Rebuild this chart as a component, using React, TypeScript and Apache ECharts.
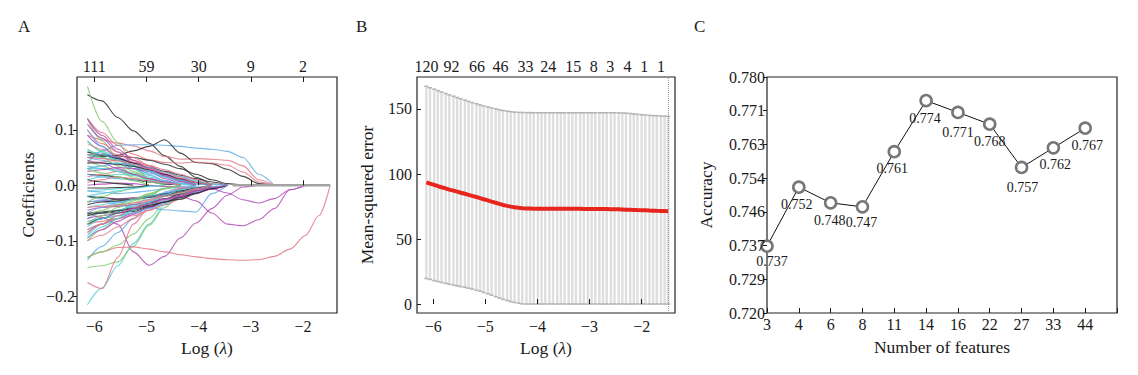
import React, { useEffect, useRef } from "react";
import * as echarts from "echarts";

// ---------- Panel A: LASSO coefficient paths ----------
const A_LAMBDA = [-6.13, -5.85, -5.55, -5.25, -4.95, -4.65, -4.35, -4.05, -3.75, -3.45, -3.15, -2.85, -2.55, -2.25, -1.95, -1.7, -1.48];
const A_TOP_POS = [-6, -5, -4, -3, -2];
const A_TOP_LABELS = ["111", "59", "30", "9", "2"];
const A_X_TICKS = [-6, -5, -4, -3, -2];
const A_Y_TICKS = [-0.2, -0.1, 0, 0.1];
const A_ZERO_SPAN = [-3.35, -1.48];
const A_COLORS = ["#2b2b2b", "#e27584", "#80cc6c", "#62aee6", "#52cfd8", "#b04cb6"];
const A_PATHS: number[][] = [
  [0.163, 0.152, 0.122, 0.098, 0.076, 0.053, 0.034, 0.014, 0],
  [0.09, 0.082, 0.076, 0.071, 0.062, 0.052, 0.047, 0.048, 0.047, 0.045, 0.035, 0.01, 0],
  [0.178, 0.115, 0.077, 0.037, 0.012, 0],
  [0.04, 0.062, 0.072, 0.073, 0.073, 0.072, 0.07, 0.067, 0.065, 0.061, 0.05, 0.02, 0],
  [-0.215, -0.185, -0.145, -0.105, -0.07, -0.035, -0.01, 0],
  [-0.05, -0.058, -0.07, -0.12, -0.144, -0.128, -0.095, -0.068, -0.042, -0.018, -0.003, 0],
  [0.05, 0.052, 0.054, 0.062, 0.07, 0.082, 0.058, 0.041, 0.039, 0.029, 0.016, 0.003, 0],
  [0.12, 0.095, 0.072, 0.056, 0.046, 0.041, 0.04, 0.042, 0.04, 0.036, 0.024, 0.006, 0],
  [-0.148, -0.145, -0.138, -0.11, -0.072, -0.04, -0.015, 0],
  [-0.135, -0.11, -0.085, -0.06, -0.035, -0.012, 0],
  [0.01, 0.015, 0.02, 0.018, 0.012, 0.006, 0.002, 0],
  [-0.03, -0.028, -0.025, -0.022, -0.02, -0.018, -0.02, -0.028, -0.05, -0.07, -0.073, -0.062, -0.042, -0.008, 0],
  [-0.052, -0.05, -0.049, -0.047, -0.04, -0.03, -0.02, -0.01, 0],
  [-0.13, -0.12, -0.112, -0.111, -0.115, -0.12, -0.125, -0.129, -0.132, -0.134, -0.135, -0.134, -0.128, -0.115, -0.09, -0.055, 0],
  [-0.13, -0.12, -0.108, -0.088, -0.06, -0.03, -0.008, 0],
  [-0.02, -0.025, -0.03, -0.035, -0.04, -0.044, -0.046, -0.048, -0.015, 0],
  [-0.01, -0.008, -0.006, -0.004, -0.002, 0],
  [0.0, 0.002, 0.004, 0.003, 0.0, -0.002, -0.003, -0.004, -0.006, -0.014, -0.026, -0.032, -0.024, -0.008, 0],
  [0.055, 0.054, 0.053, 0.05, 0.045, 0.038, 0.03, 0.02, 0.01, 0.003, 0],
  [-0.175, -0.186, -0.13, -0.07, -0.04, -0.018, -0.005, 0],
  [0.12, 0.08, 0.05, 0.03, 0.012, 0],
  [0.06, 0.058, 0.05, 0.04, 0.03, 0.02, 0.01, 0],
  [0.055, 0.05, 0.045, 0.035, 0.02, 0.008, 0],
  [0.11, 0.085, 0.06, 0.04, 0.025, 0.012, 0.004, 0],
  [-0.05, -0.048, -0.045, -0.04, -0.032, -0.024, -0.016, -0.008, 0],
  [0.1, 0.075, 0.06, 0.05, 0.035, 0.02, 0.008, 0],
  [-0.1, -0.08, -0.06, -0.04, -0.02, -0.005, 0],
  [-0.09, -0.07, -0.055, -0.045, -0.03, -0.018, -0.006, 0],
  [0.03, 0.03, 0.028, 0.022, 0.015, 0.008, 0.003, 0],
  [-0.08, -0.07, -0.06, -0.05, -0.04, -0.03, -0.02, -0.01, -0.004, 0],
  [0.02, 0.018, 0.015, 0.01, 0.006, 0.002, 0],
  [-0.07, -0.065, -0.06, -0.055, -0.045, -0.035, -0.025, -0.012, 0],
  [0.08, 0.06, 0.04, 0.025, 0.012, 0.004, 0],
  [-0.03, -0.028, -0.035, -0.04, -0.035, -0.028, -0.018, -0.008, 0],
  [-0.06, -0.05, -0.045, -0.038, -0.03, -0.02, -0.012, -0.005, -0.002, 0],
  [0.09, 0.07, 0.05, 0.04, 0.028, 0.018, 0.01, 0.004, 0],
  [-0.02, -0.022, -0.025, -0.025, -0.022, -0.018, -0.012, -0.006, 0],
  [0.04, 0.042, 0.045, 0.042, 0.035, 0.025, 0.015, 0.006, 0],
  [-0.085, -0.07, -0.05, -0.032, -0.018, -0.006, 0],
  [0.05, 0.045, 0.038, 0.03, 0.022, 0.015, 0.008, 0.003, 0],
  [-0.04, -0.035, -0.03, -0.025, -0.02, -0.015, -0.01, -0.006, -0.003, 0],
  [-0.095, -0.08, -0.065, -0.052, -0.04, -0.03, -0.02, -0.01, -0.004, 0],
  [0.01, 0.006, 0.003, 0],
  [-0.1, -0.09, -0.075, -0.06, -0.045, -0.03, -0.018, -0.008, 0],
  [0.045, 0.035, 0.025, 0.015, 0.006, 0],
  [-0.065, -0.06, -0.055, -0.05, -0.042, -0.033, -0.022, -0.012, -0.005, 0],
  [0.08, 0.062, 0.048, 0.035, 0.025, 0.015, 0.006, 0],
  [0.06, 0.055, 0.05, 0.04, 0.03, 0.02, 0.01, 0.003, 0],
  [-0.07, -0.06, -0.05, -0.045, -0.038, -0.03, -0.025, -0.015, -0.006, 0],
  [0.015, 0.02, 0.025, 0.02, 0.012, 0.005, 0],
  [-0.03, -0.02, -0.012, -0.005, 0],
  [0.1, 0.07, 0.045, 0.03, 0.018, 0.008, 0],
  [-0.075, -0.06, -0.048, -0.035, -0.025, -0.015, -0.007, 0],
  [-0.045, -0.04, -0.038, -0.035, -0.03, -0.025, -0.02, -0.014, -0.007, 0],
  [0.06, 0.055, 0.048, 0.04, 0.032, 0.025, 0.018, 0.012, 0.006, 0],
  [-0.085, -0.07, -0.055, -0.04, -0.028, -0.015, -0.006, 0],
  [0.065, 0.05, 0.035, 0.02, 0.008, 0],
  [-0.01, -0.012, -0.015, -0.013, -0.01, -0.006, -0.002, 0],
  [0.035, 0.03, 0.025, 0.018, 0.01, 0.004, 0],
  [0.025, 0.028, 0.032, 0.03, 0.025, 0.018, 0.01, 0.004, 0],
  [-0.035, -0.03, -0.028, -0.025, -0.02, -0.015, -0.01, -0.005, 0],
  [0.075, 0.065, 0.055, 0.045, 0.036, 0.028, 0.02, 0.01, 0.003, 0],
  [-0.055, -0.045, -0.035, -0.025, -0.015, -0.006, 0],
  [0.02, 0.015, 0.012, 0.01, 0.008, 0.004, 0],
  [-0.095, -0.075, -0.06, -0.045, -0.03, -0.018, -0.008, 0],
  [0.045, 0.04, 0.03, 0.02, 0.012, 0.006, 0],
  [-0.055, -0.05, -0.046, -0.042, -0.036, -0.03, -0.022, -0.014, -0.006, 0],
  [0.005, 0.01, 0.015, 0.012, 0.008, 0.004, 0],
  [0.03, 0.022, 0.015, 0.008, 0],
  [-0.05, -0.04, -0.032, -0.026, -0.02, -0.014, -0.008, -0.003, 0],
  [0.065, 0.055, 0.045, 0.035, 0.026, 0.017, 0.009, 0.003, 0],
  [-0.06, -0.055, -0.05, -0.042, -0.034, -0.026, -0.018, -0.01, -0.004, 0],
  [0.04, 0.04, 0.038, 0.034, 0.028, 0.02, 0.012, 0.005, 0],
  [-0.04, -0.038, -0.036, -0.032, -0.026, -0.02, -0.013, -0.006, 0],
  [-0.07, -0.055, -0.04, -0.028, -0.016, -0.006, 0],
  [0.03, 0.035, 0.04, 0.038, 0.032, 0.024, 0.016, 0.008, 0.002, 0],
  [-0.02, -0.015, -0.01, -0.006, -0.002, 0],
  [0.12, 0.09, 0.065, 0.045, 0.03, 0.017, 0.007, 0],
  [-0.005, -0.005, -0.004, -0.003, 0],
  [0.05, 0.048, 0.044, 0.038, 0.03, 0.022, 0.013, 0.005, 0],
];

// ---------- Panel B: cross-validation MSE ----------
const B_LAMBDA = [
  -6.13, -6.06, -5.98, -5.91, -5.84, -5.76, -5.69, -5.61, -5.54, -5.47,
  -5.39, -5.32, -5.25, -5.17, -5.10, -5.03, -4.95, -4.88, -4.80, -4.73,
  -4.66, -4.58, -4.51, -4.44, -4.36, -4.29, -4.21, -4.14, -4.07, -3.99,
  -3.92, -3.85, -3.77, -3.70, -3.62, -3.55, -3.48, -3.40, -3.33, -3.26,
  -3.18, -3.11, -3.03, -2.96, -2.89, -2.81, -2.74, -2.67, -2.59, -2.52,
  -2.44, -2.37, -2.30, -2.22, -2.15, -2.08, -2.00, -1.93, -1.85, -1.78,
  -1.71, -1.63, -1.56, -1.49,
];
const B_MEAN = [
  93.5, 92.6, 91.6, 90.7, 89.8, 88.9, 88.0, 87.2, 86.4, 85.6,
  84.8, 84.0, 83.2, 82.3, 81.5, 80.6, 79.7, 78.8, 77.9, 77.0,
  76.2, 75.5, 74.9, 74.4, 74.0, 73.7, 73.5, 73.4, 73.3, 73.3,
  73.2, 73.2, 73.2, 73.2, 73.2, 73.2, 73.2, 73.2, 73.2, 73.2,
  73.2, 73.1, 73.1, 73.1, 73.1, 73.0, 73.0, 73.0, 72.9, 72.9,
  72.8, 72.7, 72.6, 72.5, 72.4, 72.3, 72.2, 72.1, 71.9, 71.8,
  71.7, 71.6, 71.5, 71.4,
];
const B_SD = [
  73.9, 73.7, 73.6, 73.4, 73.2, 73.0, 72.8, 72.6, 72.4, 72.2,
  72.0, 71.8, 71.7, 71.7, 71.6, 71.7, 71.8, 72.0, 72.2, 72.4,
  72.6, 72.8, 73.0, 73.2, 73.4, 73.6, 73.5, 73.4, 73.3, 73.3,
  73.2, 73.2, 73.2, 73.2, 73.2, 73.2, 73.2, 73.2, 73.2, 73.2,
  73.2, 73.1, 73.1, 73.1, 73.1, 73.0, 73.0, 73.0, 72.9, 72.9,
  72.8, 72.7, 72.6, 72.5, 72.4, 72.3, 72.2, 72.1, 71.9, 71.8,
  71.7, 71.6, 71.5, 71.4,
];
const B_UPPER_EXTRA = [
  0, 0, 0, 0, 0, 0, 0, 0, 0, 0,
  0, 0, 0, 0, 0, 0, 0, 0, 0, 0,
  0, 0, 0, 0, 0, 0, 0.2, 0.4, 0.5, 0.5,
  0.7, 0.7, 0.7, 0.7, 0.7, 0.7, 0.7, 0.7, 0.7, 0.7,
  0.7, 0.9, 0.9, 0.9, 0.9, 1.1, 1.1, 1.1, 1.3, 1.3,
  1.4, 1.5, 1.6, 1.5, 1.4, 1.3, 1.2, 1.2, 1.3, 1.3,
  1.4, 1.4, 1.5, 1.5,
];
const B_LAMBDA_MIN = -1.49;
const B_TOP_POS = [-6.13, -5.65, -5.16, -4.71, -4.23, -3.79, -3.31, -2.92, -2.6, -2.27, -1.95, -1.63];
const B_TOP_LABELS = ["120", "92", "66", "46", "33", "24", "15", "8", "3", "4", "1", "1"];
const B_X_TICKS = [-6, -5, -4, -3, -2];
const B_Y_TICKS = [0, 50, 100, 150];

// ---------- Panel C: accuracy vs number of features ----------
const C_FEATURES = ["3", "4", "6", "8", "11", "14", "16", "22", "27", "33", "44"];
const C_ACCURACY = [0.737, 0.752, 0.748, 0.747, 0.761, 0.774, 0.771, 0.768, 0.757, 0.762, 0.767];
const C_Y_MIN = 0.72;
const C_Y_MAX = 0.78;
const C_Y_STEPS = 7;
const C_LABEL_OFFSETS = [[5, -1], [-2, 1], [-1, 1], [-1, -1], [-2, 0], [-1, 1], [0, 3], [0, 0], [1, 3], [2, 0], [2, 1]];

const FONT = '"Liberation Serif", "Times New Roman", serif';
const INK = "#1a1a1a";

const minus = (s: string) => s.replace("-", "\u2212");
const nearestLabel = (v: number, pos: number[], labels: string[]) => {
  let best = 0;
  for (let i = 1; i < pos.length; i++) if (Math.abs(pos[i] - v) < Math.abs(pos[best] - v)) best = i;
  return labels[best];
};

export default function App() {
  const ref = useRef<HTMLDivElement>(null);
  useEffect(() => {
    document.body.style.margin = "0";
    const chart = echarts.init(ref.current!, null, { renderer: "svg" });

    const tickLabel = { fontFamily: FONT, fontSize: 16, color: INK };
    const nameStyle = { fontFamily: FONT, fontSize: 17.5, color: INK, rich: { i: { fontFamily: FONT, fontSize: 17.5, fontStyle: "italic", color: INK } } };
    const gridBase = { show: true, borderColor: "#222", borderWidth: 1.2, backgroundColor: "transparent" };

    const aSeries: any[] = A_PATHS.map((p, i) => ({
      type: "line",
      xAxisIndex: 0,
      yAxisIndex: 0,
      data: p.map((v, j) => [A_LAMBDA[j], v]),
      showSymbol: false,
      smooth: 0.3,
      smoothMonotone: "x",
      silent: true,
      lineStyle: { color: A_COLORS[i % A_COLORS.length], width: 1.1, opacity: 0.85 },
      z: 2,
    }));
    aSeries.push({
      type: "line",
      xAxisIndex: 0,
      yAxisIndex: 0,
      data: A_ZERO_SPAN.map((x) => [x, 0]),
      showSymbol: false,
      silent: true,
      lineStyle: { color: "#a3a3a3", width: 2.5 },
      z: 5,
    });

    const bBars = B_LAMBDA.map((x, i) => [x, B_MEAN[i] - B_SD[i], B_MEAN[i] + B_SD[i] + B_UPPER_EXTRA[i]]);

    const cYTicks = Array.from({ length: C_Y_STEPS + 1 }, (_, k) => C_Y_MIN + (k * (C_Y_MAX - C_Y_MIN)) / C_Y_STEPS);

    chart.setOption({
      animation: false,
      grid: [
        { ...gridBase, left: 77, top: 77, width: 260, height: 236 },
        { ...gridBase, left: 417, top: 77, width: 258, height: 236 },
        { ...gridBase, left: 767, top: 77, width: 350, height: 236 },
      ],
      xAxis: [
        {
          type: "value", gridIndex: 0, min: -6.33, max: -1.35, position: "bottom", z: 10,
          axisLine: { show: false }, splitLine: { show: false },
          axisTick: { show: true, inside: true, length: 5, customValues: A_X_TICKS, lineStyle: { color: INK } },
          axisLabel: { ...tickLabel, margin: 5, customValues: A_X_TICKS, formatter: (v: number) => minus(String(v)) },
          name: "Log ({i|\u03bb})", nameLocation: "middle", nameGap: 26, nameTextStyle: nameStyle,
        },
        {
          type: "value", gridIndex: 0, min: -6.33, max: -1.35, position: "top", z: 10,
          axisLine: { show: false }, splitLine: { show: false },
          axisTick: { show: true, inside: true, length: 5, customValues: A_TOP_POS, lineStyle: { color: INK } },
          axisLabel: { ...tickLabel, margin: 3, customValues: A_TOP_POS, formatter: (v: number) => nearestLabel(v, A_TOP_POS, A_TOP_LABELS) },
        },
        {
          type: "value", gridIndex: 1, min: -6.31, max: -1.36, position: "bottom", z: 10,
          axisLine: { show: false }, splitLine: { show: false },
          axisTick: { show: true, inside: true, length: 5, customValues: B_X_TICKS, lineStyle: { color: INK } },
          axisLabel: { ...tickLabel, margin: 5, customValues: B_X_TICKS, formatter: (v: number) => minus(String(v)) },
          name: "Log ({i|\u03bb})", nameLocation: "middle", nameGap: 26, nameTextStyle: nameStyle,
        },
        {
          type: "value", gridIndex: 1, min: -6.31, max: -1.36, position: "top", z: 10,
          axisLine: { show: false }, splitLine: { show: false },
          axisTick: { show: false },
          axisLabel: { ...tickLabel, margin: 3, customValues: B_TOP_POS, formatter: (v: number) => nearestLabel(v, B_TOP_POS, B_TOP_LABELS) },
        },
        {
          type: "category", gridIndex: 2, data: [...C_FEATURES, ""], boundaryGap: false, z: 10,
          axisLine: { show: false }, splitLine: { show: false },
          axisTick: { show: true, inside: true, length: 5, alignWithLabel: true, lineStyle: { color: INK } },
          axisLabel: { ...tickLabel, margin: 3, interval: 0 },
          name: "Number of features", nameLocation: "middle", nameGap: 25, nameTextStyle: nameStyle,
        },
      ],
      yAxis: [
        {
          type: "value", gridIndex: 0, min: -0.23, max: 0.195, z: 10,
          axisLine: { show: false }, splitLine: { show: false },
          axisTick: { show: true, inside: false, length: 4, customValues: A_Y_TICKS, lineStyle: { color: INK } },
          axisLabel: { ...tickLabel, margin: 2, customValues: A_Y_TICKS, formatter: (v: number) => minus(v.toFixed(1)) },
          name: "Coefficients", nameLocation: "middle", nameGap: 40, nameTextStyle: nameStyle,
        },
        {
          type: "value", gridIndex: 1, min: -6.9, max: 174.6, z: 10,
          axisLine: { show: false }, splitLine: { show: false },
          axisTick: { show: true, inside: true, length: 4, customValues: B_Y_TICKS, lineStyle: { color: INK } },
          axisLabel: { ...tickLabel, margin: 5, customValues: B_Y_TICKS },
          name: "Mean-squared error", nameLocation: "middle", nameGap: 41, nameTextStyle: nameStyle,
        },
        {
          type: "value", gridIndex: 2, min: C_Y_MIN, max: C_Y_MAX, z: 10,
          axisLine: { show: false }, splitLine: { show: false },
          axisTick: { show: true, inside: false, length: 4, customValues: cYTicks, lineStyle: { color: INK } },
          axisLabel: { ...tickLabel, margin: 2, customValues: cYTicks, formatter: (v: number) => v.toFixed(3) },
          name: "Accuracy", nameLocation: "middle", nameGap: 52, nameTextStyle: nameStyle,
        },
      ],
      series: [
        ...aSeries,
        {
          type: "custom",
          xAxisIndex: 2,
          yAxisIndex: 1,
          silent: true,
          data: bBars,
          renderItem: (_p: any, api: any) => {
            const x = api.value(0);
            const lo = api.coord([x, api.value(1)]);
            const hi = api.coord([x, api.value(2)]);
            return {
              type: "group",
              children: [
                { type: "line", shape: { x1: lo[0], y1: lo[1], x2: hi[0], y2: hi[1] }, style: { stroke: "#dedede", lineWidth: 2.4 } },
                { type: "line", shape: { x1: hi[0] - 2, y1: hi[1], x2: hi[0] + 2, y2: hi[1] }, style: { stroke: "#b4b4b4", lineWidth: 1.6 } },
                { type: "line", shape: { x1: lo[0] - 2, y1: lo[1], x2: lo[0] + 2, y2: lo[1] }, style: { stroke: "#b4b4b4", lineWidth: 1.6 } },
              ],
            };
          },
          z: 2,
        },
        {
          type: "line",
          xAxisIndex: 2,
          yAxisIndex: 1,
          data: B_LAMBDA.map((x, i) => [x, B_MEAN[i]]),
          showSymbol: false,
          silent: true,
          lineStyle: { color: "#e6261c", width: 4 },
          z: 4,
          markLine: {
            silent: true,
            symbol: "none",
            label: { show: false },
            lineStyle: { color: "#9a9a9a", type: "dotted", width: 1 },
            data: [{ xAxis: B_LAMBDA_MIN }],
          },
        },
        {
          type: "line",
          xAxisIndex: 4,
          yAxisIndex: 2,
          data: C_ACCURACY.map((v, i) => ({
            value: v,
            label: { offset: C_LABEL_OFFSETS[i] },
          })),
          symbol: "circle",
          symbolSize: 11,
          showSymbol: true,
          silent: true,
          lineStyle: { color: "#111", width: 1 },
          itemStyle: { color: "#fff", borderColor: "#777", borderWidth: 2.6 },
          label: {
            show: true,
            position: "bottom",
            distance: 3,
            fontFamily: FONT,
            fontSize: 14,
            color: INK,
            formatter: (p: any) => Number(p.value).toFixed(3),
          },
          z: 3,
        },
      ],
      graphic: [
        { type: "text", left: 18, top: 18, style: { text: "A", font: `17px ${FONT}`, fill: INK } },
        { type: "text", left: 356, top: 18, style: { text: "B", font: `17px ${FONT}`, fill: INK } },
        { type: "text", left: 694, top: 18, style: { text: "C", font: `17px ${FONT}`, fill: INK } },
      ],
    });
    return () => chart.dispose();
  }, []);
  return <div ref={ref} style={{ width: 1138, height: 375 }} />;
}
